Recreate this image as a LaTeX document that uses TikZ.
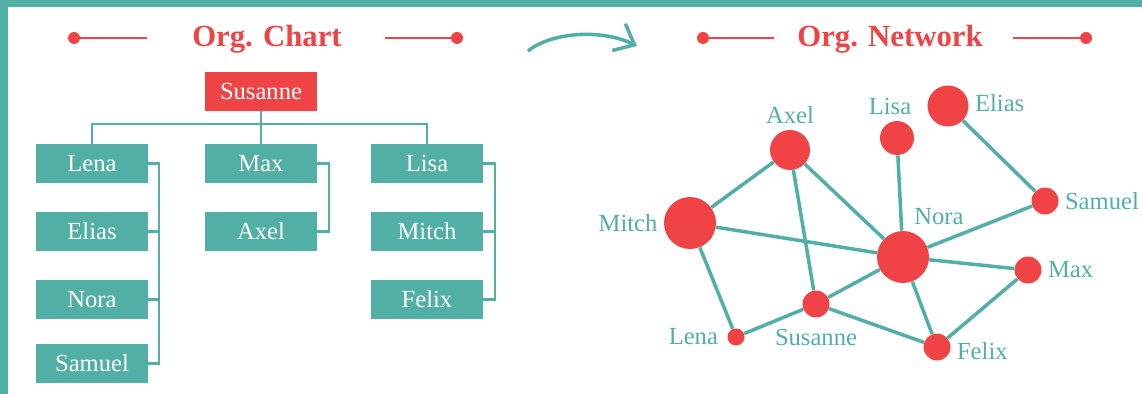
\documentclass[tikz,border=0pt]{standalone}
\usepackage{fontspec}
\setmainfont{Liberation Serif}
\usetikzlibrary{arrows.meta}

\definecolor{orgteal}{RGB}{82,175,165}
\definecolor{orgred}{RGB}{239,67,69}

\begin{document}
\begin{tikzpicture}[
    x=0.02cm, y=-0.02cm,
    member/.style={rectangle, fill=orgteal, text=white, inner sep=0pt,
        minimum width=2.24cm, minimum height=0.78cm, font=\fontsize{14}{16}\selectfont},
    link/.style={draw=orgteal, line width=1.3pt},
    person/.style={circle, fill=orgred, inner sep=0pt},
    tie/.style={draw=orgteal, line width=2pt},
    every label/.style={text=orgteal, font=\fontsize{14}{16}\selectfont},
    heading/.style={text=orgred, font=\fontsize{17.5}{20}\selectfont\bfseries, anchor=base},
    rule/.style={draw=orgred, line width=1.6pt}
]
    \useasboundingbox (0,0) rectangle (1142,394);

    % Frame
    \fill[orgteal] (0,0) rectangle (1142,7);
    \fill[orgteal] (0,0) rectangle (8,394);

    % Headings
    \node[heading] (charttitle) at (267,47) {Org. Chart};
    \node[heading] (nettitle) at (890,47) {Org. Network};
    \foreach \a/\b in {74/147, 457/385, 703/774, 1086/1013} {
        \draw[rule] (\a,38) -- (\b,38);
        \fill[orgred] (\a,38) circle[radius=6];
    }

    % Org chart
    \node[member, fill=orgred] (susanne) at (261,91.5) {Susanne};
    \node[member] (lena) at (92,163.5) {Lena};
    \node[member] (elias) at (92,231.5) {Elias};
    \node[member] (nora) at (92,299.5) {Nora};
    \node[member] (samuel) at (92,363.5) {Samuel};
    \node[member] (max) at (261,163.5) {Max};
    \node[member] (axel) at (261,231.5) {Axel};
    \node[member] (lisa) at (427,163.5) {Lisa};
    \node[member] (mitch) at (427,231.5) {Mitch};
    \node[member] (felix) at (427,299.5) {Felix};

    \draw[link] (susanne) -- (max);
    \draw[link] (lena.north) -- ++(0,-20) -| (lisa.north);
    \draw[link] (lena.east) -- ++(11,0) |- (samuel.east);
    \draw[link] (elias.east) -- ++(11,0);
    \draw[link] (nora.east) -- ++(11,0);
    \draw[link] (max.east) -- ++(12,0) |- (axel.east);
    \draw[link] (lisa.east) -- ++(12,0) |- (felix.east);
    \draw[link] (mitch.east) -- ++(12,0);

    % Arrow between the two
    \coordinate (arrowstart) at (528,51);
    \coordinate (arrowend) at (637,46);
    \draw[tie, -{Straight Barb[length=10pt,width=17pt]}] (arrowstart) .. controls (550,33) and (600,28) .. (arrowend);

    % Org network
    \node[person, minimum size=0.8cm, label=above:Axel] (nw-axel) at (790,150) {};
    \node[person, minimum size=0.68cm, label={[xshift=-0.14cm]above:Lisa}] (nw-lisa) at (897,138) {};
    \node[person, minimum size=0.82cm, label={[yshift=0.06cm]right:Elias}] (nw-elias) at (948,106) {};
    \node[person, minimum size=0.54cm, label=right:Samuel] (nw-samuel) at (1045,201) {};
    \node[person, minimum size=1.04cm, label=left:Mitch] (nw-mitch) at (690,223) {};
    \node[person, minimum size=1.04cm, label={[xshift=0.72cm]above:Nora}] (nw-nora) at (903,257) {};
    \node[person, minimum size=0.54cm, label=right:Max] (nw-max) at (1028,270) {};
    \node[person, minimum size=0.54cm, label={[yshift=-0.1cm]below:Susanne}] (nw-susanne) at (816,304) {};
    \node[person, minimum size=0.34cm, label={[xshift=-0.06cm]left:Lena}] (nw-lena) at (736,337) {};
    \node[person, minimum size=0.54cm, label={[yshift=-0.08cm]right:Felix}] (nw-felix) at (937,347) {};

    \foreach \p/\q in {mitch/axel, mitch/nora, mitch/lena, axel/susanne, axel/nora,
                      lisa/nora, elias/samuel, samuel/nora, nora/max, nora/susanne,
                      nora/felix, max/felix, susanne/lena, susanne/felix}
        \draw[tie] (nw-\p) -- (nw-\q);
\end{tikzpicture}
\end{document}
